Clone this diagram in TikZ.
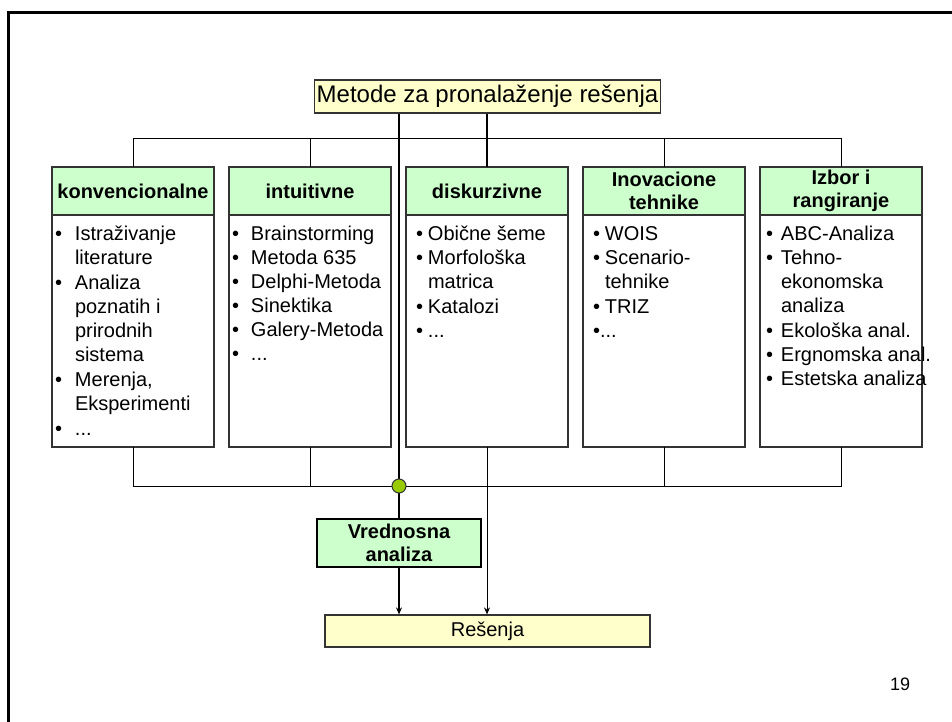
\documentclass[tikz,border=0pt]{standalone}
\usepackage{fontspec}
\setmainfont{Liberation Sans}
\usetikzlibrary{arrows.meta,positioning}
\definecolor{headfill}{HTML}{CCFFCC}
\definecolor{notefill}{HTML}{FFFFCC}
\definecolor{joinfill}{HTML}{99CC00}
\definecolor{edge}{HTML}{333333}
\newlength{\bulw}
% one bullet point, continuation lines hang under the first word
\newcommand{\itm}[1]{\makebox[\bulw][l]{\textbullet}\begin{tabular}[t]{@{}l@{}}#1\end{tabular}\par}
% column text: left offset, bullet width, items
\newcommand{\methodlist}[3]{\parbox[t][214pt][t]{162pt}{\leftskip=#1\setlength{\bulw}{#2}#3}}

\begin{document}
\begin{tikzpicture}[
  x=1pt, y=-1pt,
  font=\fontsize{20}{24}\selectfont,
  node distance=15pt,
  title/.style={draw=edge, line width=1.2pt, fill=notefill, inner xsep=2pt, minimum height=33pt},
  head/.style={draw=edge, line width=1.2pt, fill=headfill, align=center,
               font=\fontsize{20}{23}\selectfont\bfseries,
               minimum width=162pt, minimum height=48pt, inner sep=0pt, outer sep=0pt},
  body/.style={draw=edge, line width=1.2pt, fill=white, inner xsep=0pt, inner ysep=9pt, outer sep=0pt},
  wire/.style={line width=1pt, draw=black},
  trunk/.style={line width=2.5pt, draw=black},
  arrow/.style={-{Stealth[length=7pt,width=6pt]}},
  joint/.style={circle, draw=edge, fill=joinfill, minimum size=14pt, inner sep=0pt, line width=1pt}
]
  \useasboundingbox (0,0) rectangle (952,722);
  \draw[line width=3pt] (8.5,722) -- (8.5,12.5) -- (952,12.5);

  \node[title, font=\fontsize{24}{28}\selectfont] (methods) at (487.5,96.5) {Metode za pronalaženje rešenja};

  % the five groups of methods
  \node[head] (conv) at (133,191) {konvencionalne};
  \node[head, right=of conv] (intu) {intuitivne};
  \node[head, right=of intu] (diskur) {diskurzivne};
  \node[head, right=of diskur] (inov) {Inovacione\\tehnike};
  \node[head, right=of inov] (izbor) {Izbor i\\rangiranje};

  \node[body, below=0pt of conv] (convlist) {\methodlist{3pt}{20pt}{%
    \itm{Istraživanje\\literature}
    \itm{Analiza\\poznatih i\\prirodnih\\sistema}
    \itm{Merenja,\\Eksperimenti}
    \itm{...}}};
  \node[body, below=0pt of intu] (intulist) {\methodlist{3pt}{19pt}{%
    \itm{Brainstorming}
    \itm{Metoda 635}
    \itm{Delphi-Metoda}
    \itm{Sinektika}
    \itm{Galery-Metoda}
    \itm{...}}};
  \node[body, below=0pt of diskur] (diskurlist) {\methodlist{10pt}{12pt}{%
    \itm{Obične šeme}
    \itm{Morfološka\\matrica}
    \itm{Katalozi}
    \itm{...}}};
  \node[body, below=0pt of inov] (inovlist) {\methodlist{10pt}{12pt}{%
    \itm{WOIS}
    \itm{Scenario-\\tehnike}
    \itm{TRIZ}
    \textbullet...\par}};
  \node[body, below=0pt of izbor] (izborlist) {\methodlist{6pt}{15pt}{%
    \itm{ABC-Analiza}
    \itm{Tehno-\\ekonomska\\analiza}
    \itm{Ekološka anal.}
    \itm{Ergnomska anal.}
    \itm{Estetska analiza}}};

  \node[draw=black, line width=2pt, fill=headfill, align=center, font=\fontsize{20}{23}\selectfont\bfseries,
        minimum width=164pt, minimum height=48pt, inner sep=0pt] (value) at (399,543) {Vrednosna\\analiza};
  \node[draw=edge, line width=1.2pt, fill=notefill, minimum width=325pt, minimum height=32pt,
        inner sep=0pt] (result) at (487.5,631) {Rešenja};

  \coordinate (bus) at (0,139);
  \coordinate (junction) at (399,486);

  % upper bus
  \draw[wire] (conv.north) -- (conv.north |- bus) -- (izbor.north |- bus) -- (izbor.north);
  \draw[wire] (intu.north) -- (intu.north |- bus);
  \draw[wire] (inov.north) -- (inov.north |- bus);
  \draw[trunk] (methods.south -| diskur.north) -- (diskur.north);
  \draw[trunk] (methods.south -| junction) -- (junction) -- (value.north);

  % lower bus
  \draw[wire] (convlist.south) -- (convlist.south |- junction) -- (izborlist.south |- junction) -- (izborlist.south);
  \draw[wire] (intulist.south) -- (intulist.south |- junction);
  \draw[wire] (inovlist.south) -- (inovlist.south |- junction);
  \draw[wire, arrow] (diskurlist.south) -- (result.north -| diskurlist.south);
  \draw[trunk, arrow] (value.south) -- (result.north -| value.south);

  \node[joint] (join) at (junction) {};

  \node[font=\fontsize{18}{20}\selectfont] (page) at (900,684) {19};
\end{tikzpicture}
\end{document}
